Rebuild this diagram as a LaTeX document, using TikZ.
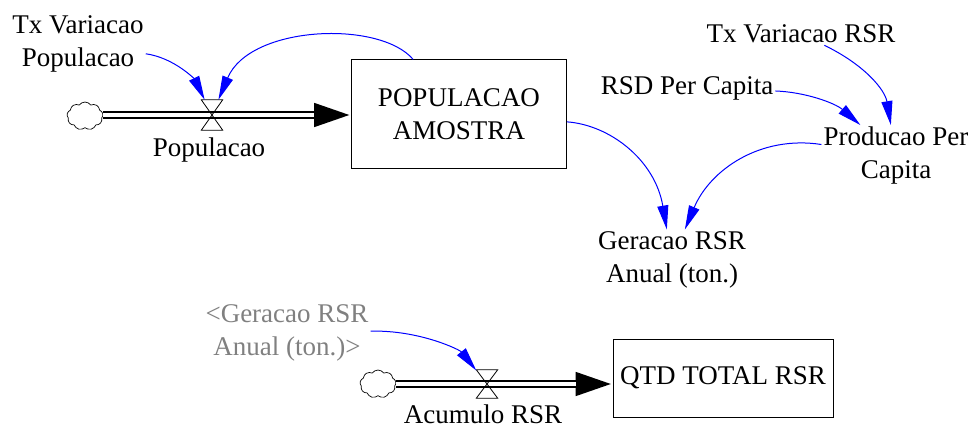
\documentclass[tikz,border=0pt]{standalone}
\usepackage{fontspec}
\setmainfont{LiberationSerif}[Extension=.ttf,UprightFont=*-Regular,BoldFont=*-Bold]
\usepackage{xcolor}
\definecolor{vblue}{RGB}{0,0,255}
\definecolor{vgrey}{RGB}{128,128,128}
\usetikzlibrary{arrows.meta,shapes.symbols}

\begin{document}
\begin{tikzpicture}[x=1pt,y=-1pt,font=\fontsize{27}{33}\selectfont,
  stock/.style={draw,line width=1pt,inner sep=0pt,align=center},
  aux/.style={align=center,inner sep=2pt},
  cloudy/.style={draw,cloud,cloud puffs=9,cloud puff arc=110,aspect=1.3,minimum width=36pt,minimum height=28pt,inner sep=0pt,line width=0.7pt},
  valve/.style={minimum width=21pt,minimum height=30pt,inner sep=0pt},
  link/.style={vblue,line width=1pt,-{Triangle[length=24pt,width=11pt]}},
  pipe/.style={line width=7.5pt,-{Triangle[length=37pt,width=22pt]}},
  pipein/.style={white,line width=4.5pt,shorten >=37pt}]
  \useasboundingbox (0,0) rectangle (974,428);
  % population stock and its inflow
  \node[aux] (txpop) at (78,44) {Tx Variacao\\Populacao};
  \node[cloudy] (c1) at (85,116) {};
  \node[valve] (v1) at (212,115) {};
  \node[stock,minimum width=215pt,minimum height=108pt] (pop) at (459,114) {POPULACAO\\AMOSTRA};
  \node[aux] (lpop) at (209,150) {Populacao};
  \draw[pipe] (c1.east |- v1) -- (v1 -| pop.west);
  \draw[pipein] (c1.east |- v1) -- (v1 -| pop.west);
  \draw[line width=0.8pt] (v1.north west) -- (v1.north east) -- (v1.south west) -- (v1.south east) -- cycle;
  % auxiliaries
  \node[aux] (rsd) at (687,88) {RSD Per Capita};
  \node[aux] (txrsr) at (801,34) {Tx Variacao RSR};
  \node[aux] (prod) at (896,156) {Producao Per\\Capita};
  \node[aux] (ger) at (672,260) {Geracao RSR\\Anual (ton.)};
  % accumulated stock
  \node[aux,text=vgrey] (gerref) at (287,333) {<Geracao RSR\\Anual (ton.)>};
  \node[cloudy] (c2) at (378,384) {};
  \node[valve,minimum height=28pt] (v2) at (487,384) {};
  \node[stock,minimum width=220pt,minimum height=78pt] (qtd) at (723,378) {QTD TOTAL RSR};
  \node[aux] (lacum) at (483,414) {Acumulo RSR};
  \draw[pipe] (c2.east |- v2) -- (v2 -| qtd.west);
  \draw[pipein] (c2.east |- v2) -- (v2 -| qtd.west);
  \draw[line width=0.8pt] (v2.north west) -- (v2.north east) -- (v2.south west) -- (v2.south east) -- cycle;
  % links
  \draw[link] (txpop) .. controls (175,58) and (195,80) .. (v1);
  \draw[link] (pop) .. controls (380,20) and (250,25) .. (v1);
  \draw[link] (rsd) .. controls (805,92) and (835,103) .. (prod);
  \draw[link] (txrsr) .. controls (865,65) and (885,90) .. (prod);
  \draw[link] (pop) .. controls (610,125) and (655,160) .. (ger);
  \draw[link] (prod) .. controls (760,135) and (710,170) .. (ger);
  \draw[link] (gerref) .. controls (420,330) and (460,350) .. (v2);
\end{tikzpicture}
\end{document}
